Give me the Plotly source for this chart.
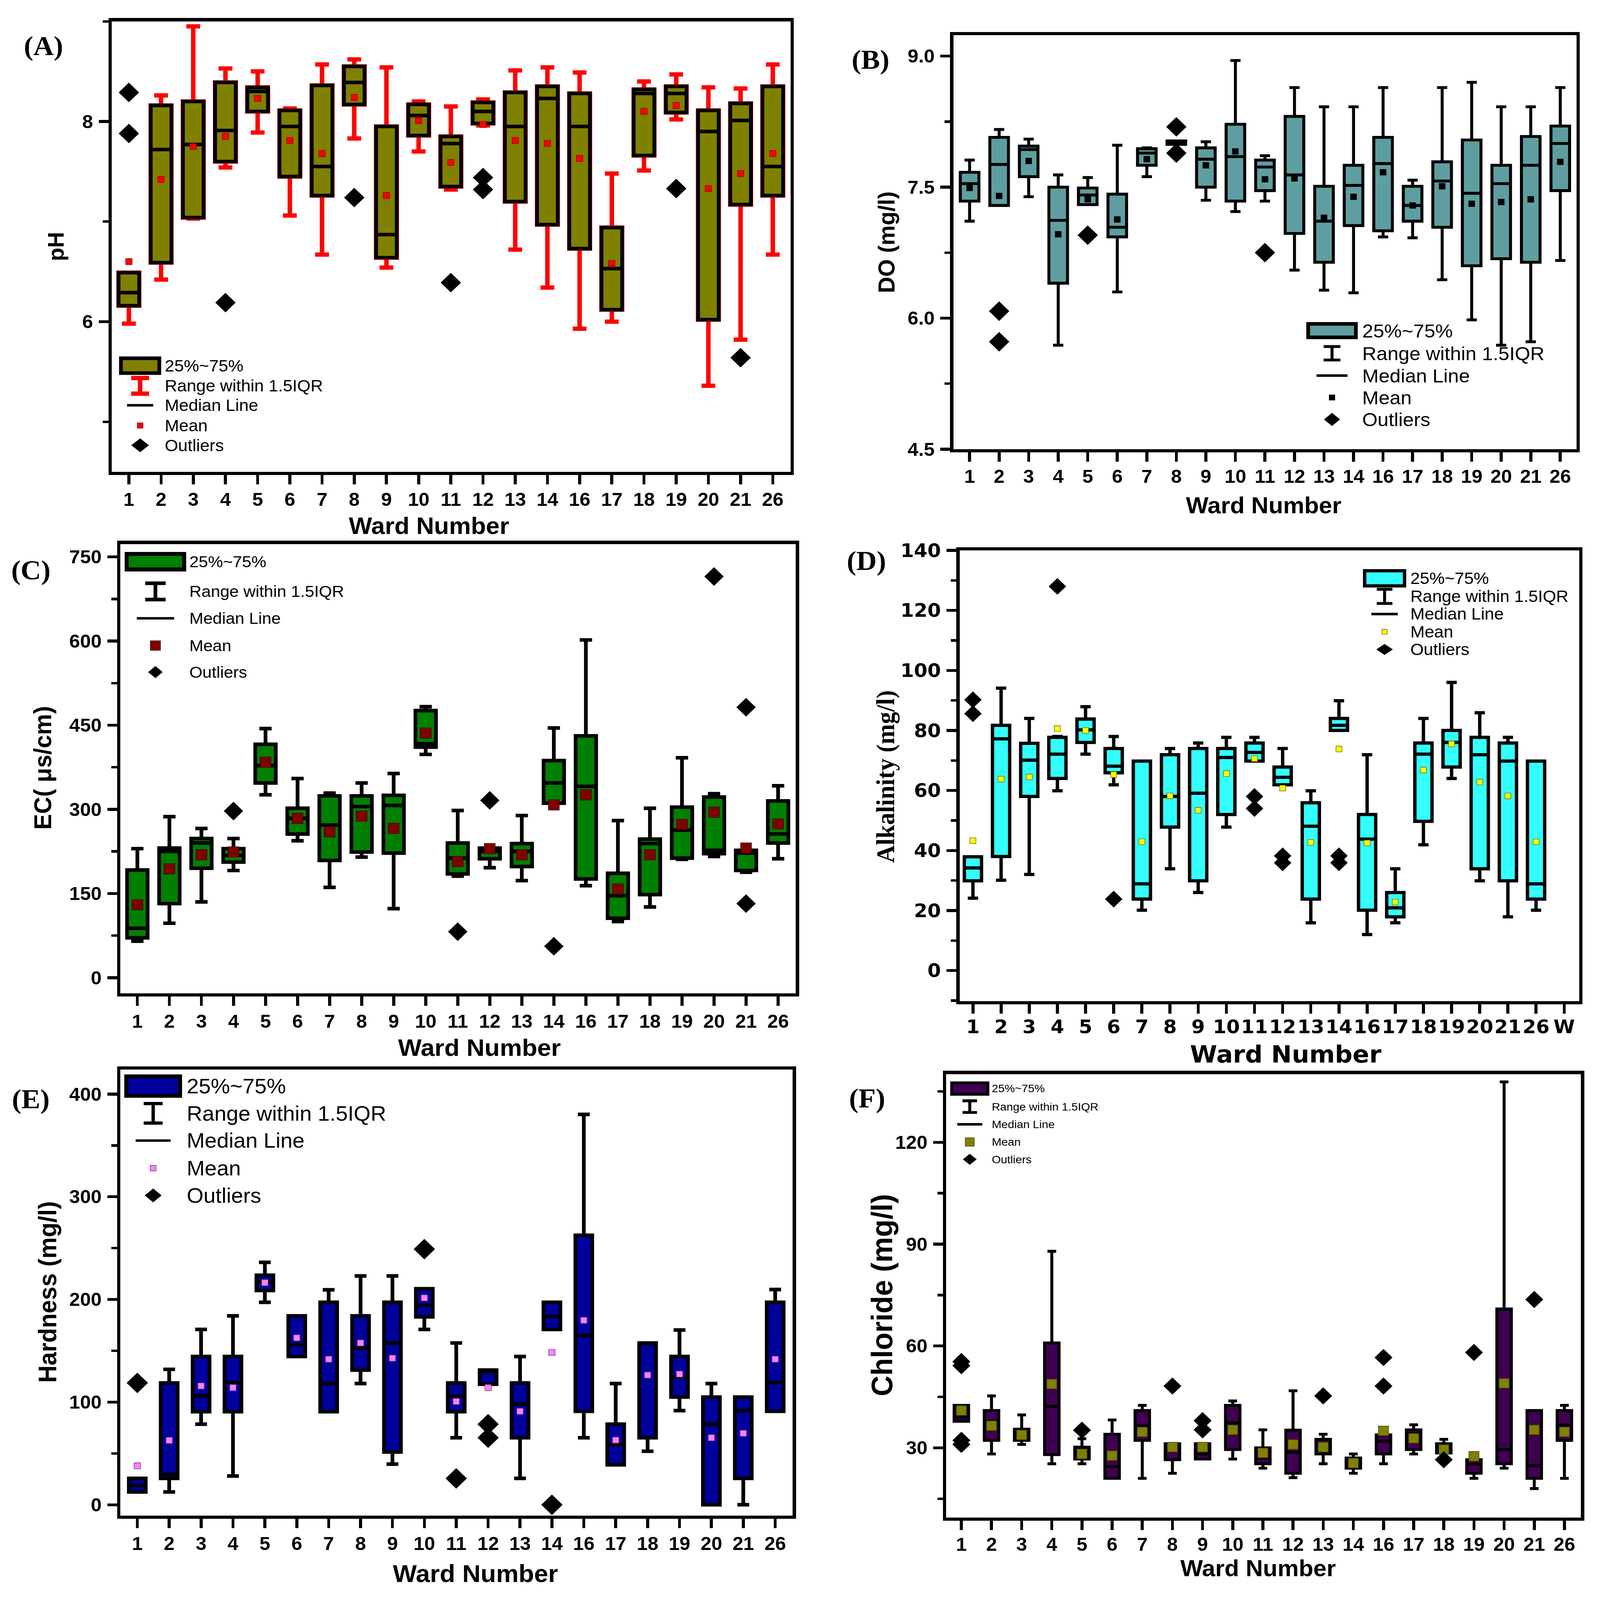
import plotly.graph_objects as go

W, H = 4293, 4462

wards = ["1", "2", "3", "4", "5", "6", "7", "8", "9", "10", "11", "12", "13", "14",
         "16", "17", "18", "19", "20", "21", "26"]
wards_alk = wards + ["W"]

# ---------------- (A) pH ----------------
ph_q1 = [6.16, 6.59, 7.04, 7.60, 8.10, 7.45, 7.26, 8.17, 6.64, 7.86, 7.35, 7.98, 7.20, 6.97, 6.73, 6.12, 7.66, 8.09, 6.02, 7.17, 7.26]
ph_med = [6.29, 7.72, 7.77, 7.91, 8.30, 7.95, 7.55, 8.39, 6.87, 8.06, 7.78, 8.10, 7.95, 8.23, 7.95, 6.53, 8.28, 8.28, 7.90, 8.01, 7.55]
ph_q3 = [6.49, 8.16, 8.20, 8.39, 8.34, 8.11, 8.36, 8.55, 7.95, 8.17, 7.85, 8.19, 8.29, 8.35, 8.28, 6.94, 8.32, 8.35, 8.11, 8.18, 8.35]
ph_lo = [5.98, 6.42, 7.03, 7.54, 7.89, 7.06, 6.67, 7.83, 6.54, 7.70, 7.32, 7.96, 6.72, 6.34, 5.93, 6.00, 7.51, 8.02, 5.36, 5.82, 6.67]
ph_hi = [6.49, 8.26, 8.95, 8.53, 8.50, 8.13, 8.57, 8.62, 8.54, 8.20, 8.15, 8.22, 8.51, 8.54, 8.49, 7.48, 8.40, 8.47, 8.34, 8.33, 8.57]
ph_mean = [6.60, 7.42, 7.75, 7.85, 8.23, 7.81, 7.68, 8.24, 7.26, 8.01, 7.59, 7.97, 7.81, 7.78, 7.63, 6.58, 8.10, 8.16, 7.33, 7.48, 7.68]
ph_out_x = ["1", "1", "4", "8", "11", "12", "12", "19", "21"]
ph_out_y = [8.29, 7.88, 6.19, 7.24, 6.39, 7.44, 7.32, 7.33, 5.64]

# ---------------- (B) DO ----------------
do_q1 = [7.34, 7.29, 7.62, 6.40, 7.30, 6.93, 7.75, 7.99, 7.50, 7.34, 7.46, 6.97, 6.64, 7.06, 7.00, 7.11, 7.04, 6.60, 6.68, 6.64, 7.46]
do_med = [7.54, 7.76, 7.93, 7.12, 7.41, 7.04, 7.89, 8.01, 7.82, 7.85, 7.73, 7.64, 7.11, 7.52, 7.77, 7.29, 7.57, 7.43, 7.54, 7.75, 8.00]
do_q3 = [7.67, 8.07, 7.97, 7.50, 7.49, 7.42, 7.94, 8.03, 7.95, 8.22, 7.81, 8.31, 7.51, 7.75, 8.07, 7.51, 7.79, 8.04, 7.75, 8.08, 8.20]
do_lo = [7.11, 7.29, 7.39, 5.69, 7.30, 6.30, 7.62, 7.99, 7.35, 7.22, 7.34, 6.55, 6.32, 6.29, 6.93, 6.92, 6.44, 5.98, 5.69, 5.73, 6.66]
do_hi = [7.81, 8.16, 8.05, 7.64, 7.61, 7.98, 7.95, 8.03, 8.02, 8.95, 7.86, 8.64, 8.42, 8.42, 8.64, 7.58, 8.64, 8.70, 8.42, 8.42, 8.64]
do_mean = [7.49, 7.40, 7.80, 6.96, 7.36, 7.13, 7.82, 8.01, 7.75, 7.91, 7.59, 7.60, 7.15, 7.39, 7.67, 7.29, 7.51, 7.31, 7.33, 7.36, 7.79]
do_out_x = ["2", "2", "5", "8", "8", "11"]
do_out_y = [6.08, 5.73, 6.95, 8.19, 7.89, 6.75]

# ---------------- (C) EC ----------------
ec_q1 = [71, 132, 195, 206, 347, 256, 209, 224, 222, 411, 185, 212, 198, 311, 176, 106, 148, 213, 221, 191, 240]
ec_med = [88, 225, 240, 218, 378, 284, 272, 305, 307, 417, 213, 225, 225, 347, 341, 146, 239, 263, 227, 222, 256]
ec_q3 = [192, 231, 248, 230, 416, 302, 324, 324, 325, 476, 240, 231, 239, 387, 431, 186, 247, 304, 322, 227, 315]
ec_lo = [65, 97, 135, 191, 326, 244, 161, 215, 123, 398, 181, 196, 173, 311, 164, 100, 126, 211, 216, 188, 212]
ec_hi = [230, 287, 266, 248, 444, 355, 329, 347, 364, 483, 298, 231, 289, 445, 602, 280, 302, 392, 328, 227, 342]
ec_mean = [130, 194, 219, 224, 384, 284, 260, 288, 266, 436, 207, 230, 219, 308, 326, 158, 219, 273, 295, 231, 274]
ec_out_x = ["4", "11", "12", "14", "20", "21", "21"]
ec_out_y = [297, 82, 316, 56, 715, 482, 132]

# ---------------- (D) Alkalinity ----------------
alk_q1 = [29.9, 38.0, 58.0, 64.0, 76.0, 65.9, 23.8, 47.8, 29.9, 52.0, 69.8, 61.9, 23.8, 80.0, 20.1, 17.9, 49.7, 67.8, 33.9, 29.9, 23.8]
alk_med = [34.2, 77.2, 70.1, 72.1, 80.2, 68.1, 28.9, 58.0, 59.1, 71.0, 72.7, 64.4, 48.1, 81.7, 43.8, 20.9, 72.1, 76.0, 71.9, 69.8, 28.9]
alk_q3 = [37.9, 81.7, 75.7, 77.7, 83.8, 74.0, 69.8, 71.9, 74.0, 74.0, 75.8, 67.8, 55.9, 84.0, 52.0, 26.0, 75.8, 80.0, 77.7, 75.8, 69.8]
alk_lo = [24.1, 30.1, 32.0, 59.9, 72.1, 61.9, 20.1, 33.9, 26.0, 47.8, 69.8, 61.9, 15.9, 80.0, 12.0, 15.9, 41.9, 64.0, 29.9, 17.9, 20.1]
alk_hi = [37.9, 94.1, 84.0, 78.0, 87.9, 78.0, 69.8, 74.0, 75.8, 77.7, 77.7, 74.0, 59.9, 89.9, 71.9, 33.9, 84.0, 96.0, 85.9, 77.7, 69.8]
alk_mean = [43.3, 63.8, 64.5, 80.6, 80.0, 65.3, 42.9, 58.2, 53.4, 65.6, 70.6, 60.8, 42.7, 73.8, 42.5, 22.8, 66.8, 75.5, 62.8, 58.2, 42.9]
alk_out_x = ["1", "1", "4", "6", "11", "11", "12", "12", "14", "14"]
alk_out_y = [90.2, 85.6, 128.0, 23.8, 58.0, 54.0, 38.2, 35.9, 38.2, 35.9]

# ---------------- (E) Hardness ----------------
hard_q1 = [12.5, 25.7, 90.7, 90.7, 208.7, 144.4, 90.7, 131.2, 51.4, 183.0, 90.7, 117.4, 65.3, 170.8, 91.0, 38.9, 65.3, 104.9, 0.0, 25.7, 91.0]
hard_med = [19.0, 29.7, 105.9, 119.0, 217.0, 156.0, 118.1, 152.7, 157.6, 194.6, 105.9, 129.6, 98.3, 183.3, 164.9, 58.7, 157.0, 124.6, 78.5, 91.7, 119.0]
hard_q3 = [25.7, 118.7, 144.4, 144.4, 223.6, 184.0, 197.2, 184.0, 197.2, 210.4, 118.7, 131.2, 118.7, 197.2, 262.5, 78.5, 157.6, 144.4, 104.9, 104.9, 197.2]
hard_lo = [12.5, 12.5, 78.5, 28.0, 197.2, 144.4, 90.7, 118.1, 39.6, 170.8, 65.3, 117.4, 25.7, 170.8, 65.3, 38.9, 52.1, 91.7, 0.0, 0.0, 91.0]
hard_hi = [25.7, 131.9, 170.8, 184.0, 236.1, 184.0, 209.4, 222.9, 222.9, 210.4, 157.6, 131.2, 144.4, 197.2, 380.2, 118.1, 157.6, 170.2, 118.1, 104.9, 209.7]
hard_mean = [37.9, 62.7, 115.7, 114.1, 216.3, 162.6, 141.8, 157.6, 142.8, 201.5, 100.6, 114.1, 91.0, 148.4, 179.7, 63.0, 126.3, 127.3, 65.3, 69.6, 141.8]
hard_out_x = ["1", "10", "11", "12", "12", "14"]
hard_out_y = [118.7, 249.0, 25.7, 78.5, 65.3, 0.0]

# ---------------- (F) Chloride ----------------
cl_q1 = [37.8, 32.2, 32.2, 28.0, 26.7, 21.0, 32.2, 26.5, 26.7, 29.5, 25.3, 22.5, 28.2, 24.0, 28.2, 29.5, 28.5, 22.5, 25.3, 21.0, 32.2]
cl_med = [39.0, 37.8, 34.2, 42.2, 28.7, 24.5, 36.5, 29.2, 28.2, 37.3, 27.0, 28.7, 29.2, 25.7, 32.0, 34.2, 30.0, 25.2, 29.5, 24.7, 36.7]
cl_q3 = [42.5, 41.0, 35.5, 60.9, 30.2, 34.0, 41.0, 31.2, 31.2, 42.5, 30.0, 35.2, 32.5, 27.0, 33.8, 35.3, 31.2, 26.5, 70.9, 41.0, 41.0]
cl_lo = [37.8, 28.2, 31.0, 25.3, 25.3, 21.0, 21.0, 22.5, 26.7, 26.7, 24.0, 21.2, 25.3, 22.5, 25.3, 28.2, 28.5, 21.0, 24.0, 18.0, 21.0]
cl_hi = [42.5, 45.3, 39.7, 87.9, 32.7, 38.2, 42.5, 31.2, 31.2, 43.8, 35.3, 46.8, 34.0, 28.2, 33.8, 36.8, 32.5, 26.5, 137.8, 41.0, 42.5]
cl_mean = [41.0, 36.5, 33.8, 48.8, 28.2, 27.7, 34.7, 30.2, 30.2, 35.3, 28.5, 31.0, 30.2, 25.5, 35.0, 32.8, 29.5, 27.5, 49.0, 35.3, 34.7]
cl_out_x = ["1", "1", "1", "1", "5", "8", "9", "9", "13", "16", "16", "18", "19", "21"]
cl_out_y = [55.4, 54.2, 32.2, 31.0, 35.2, 48.2, 38.0, 35.3, 45.3, 56.6, 48.2, 26.5, 58.1, 73.7]

legend_labels = ["25%~75%", "Range within 1.5IQR", "Median Line", "Mean", "Outliers"]

SANS = "Liberation Sans"
SERIF = "Liberation Serif"

panels = [
    dict(label="(A)", lab_xy=(117, 100), q1=ph_q1, med=ph_med, q3=ph_q3, lo=ph_lo, hi=ph_hi, mean=ph_mean,
         ox=ph_out_x, oy=ph_out_y, cats=wards, box=(300, 30, 2121, 1303), yrange=[4.5, 9.0],
         tick0=0, dtick=2, minor=1, fmt="", right=[5, 7], xr=[-0.53, 20.55],
         fill="#808000", wcol="#ff0000", wlw=12, blw=10, bw=0.64, ww=0.67,
         mcol="#ff0000", mline="#8b0000", msize=17, dsize=42,
         xt=("Ward Number", 1151, 1455, 66), yt=("pH", 150, 667, 61, SANS), tfam=SANS, xso=-2,
         leg=dict(cx=376, tx=440, rows=[1003, 1060, 1115, 1172, 1228], bw=103, bh=42, blw=10,
                  cap=48, wh=44, mw=70, ms=15, dw=46, dh=38, fs=46)),
    dict(label="(B)", lab_xy=(2335, 138), q1=do_q1, med=do_med, q3=do_q3, lo=do_lo, hi=do_hi, mean=do_mean,
         ox=do_out_x, oy=do_out_y, cats=wards, box=(2558, 69, 4230, 1239), yrange=[4.5, 9.24],
         tick0=4.5, dtick=1.5, minor=0.75, fmt=".1f", right=[5.25, 6.75, 8.25], xr=[-0.55, 20.55],
         fill="#5f9ea0", wcol="black", wlw=8, blw=8, bw=0.63, ww=0.55,
         mcol="black", mline="black", msize=16, dsize=42,
         xt=("Ward Number", 3390, 1397, 64), yt=("DO (mg/l)", 2379, 655, 63, SANS), tfam=SANS, xso=-4,
         leg=dict(cx=3574, tx=3653, rows=[904, 968, 1031, 1093, 1155], bw=128, bh=38, blw=10,
                  cap=45, wh=38, mw=83, ms=15, dw=42, dh=36, fs=53)),
    dict(label="(C)", lab_xy=(83, 1580), q1=ec_q1, med=ec_med, q3=ec_q3, lo=ec_lo, hi=ec_hi, mean=ec_mean,
         ox=ec_out_x, oy=ec_out_y, cats=wards, box=(323, 1507, 2135, 2777), yrange=[-28, 773],
         tick0=0, dtick=150, minor=75, fmt="", right=[75, 225, 375, 525, 675], xr=[-0.53, 20.55],
         fill="#008000", wcol="black", wlw=10, blw=10, bw=0.64, ww=0.6,
         mcol="#800000", mline="#3a0000", msize=29, dsize=40,
         xt=("Ward Number", 1286, 2930, 67), yt=("EC( μs/cm)", 114, 2140, 66, SANS), tfam=SANS, xso=-2,
         leg=dict(cx=417, tx=506, rows=[1557, 1641, 1717, 1794, 1869], bw=154, bh=44, blw=11,
                  cap=55, wh=46, mw=100, ms=27, dw=38, dh=33, fs=45)),
    dict(label="(D)", lab_xy=(2325, 1554), q1=alk_q1, med=alk_med, q3=alk_q3, lo=alk_lo, hi=alk_hi, mean=alk_mean,
         ox=alk_out_x, oy=alk_out_y, cats=wards_alk, box=(2575, 1525, 4237, 2799), yrange=[-10.2, 140],
         tick0=0, dtick=20, minor=10, fmt="", right=[0, 20, 40, 60, 80, 100, 120], xr=[-0.47, 21.53],
         fill="#33ffff", wcol="black", wlw=8, blw=9, bw=0.61, ww=0.6,
         mcol="#ffff00", mline="#6b6b00", msize=16, dsize=36,
         xt=("Ward Number", 3450, 2950, 66), yt=("Alkalinity (mg/l)", 2377, 2164, 68, SERIF),
         tfam="DejaVu Sans", xso=-8, top=True,
         leg=dict(cx=3715, tx=3782, rows=[1604, 1655, 1705, 1755, 1805], bw=107, bh=43, blw=9,
                  cap=42, wh=40, mw=71, ms=14, dw=43, dh=30, fs=46)),
    dict(label="(E)", lab_xy=(82, 3075), q1=hard_q1, med=hard_med, q3=hard_q3, lo=hard_lo, hi=hard_hi, mean=hard_mean,
         ox=hard_out_x, oy=hard_out_y, cats=wards, box=(323, 2992, 2127, 4253), yrange=[-10.6, 424],
         tick0=0, dtick=100, minor=50, fmt="", right=[50, 150, 250, 350], xr=[-0.53, 20.55],
         fill="#00009c", wcol="black", wlw=9, blw=10, bw=0.53, ww=0.7,
         mcol="#ff80ff", mline="#7a3a7a", msize=17, dsize=44,
         xt=("Ward Number", 1275, 4416, 68), yt=("Hardness (mg/l)", 127, 3621, 67, SANS), tfam=SANS, xso=-2,
         leg=dict(cx=411, tx=499, rows=[3039, 3116, 3193, 3271, 3348], bw=144, bh=55, blw=11,
                  cap=51, wh=55, mw=94, ms=16, dw=44, dh=38, fs=58)),
    dict(label="(F)", lab_xy=(2326, 3073), q1=cl_q1, med=cl_med, q3=cl_q3, lo=cl_lo, hi=cl_hi, mean=cl_mean,
         ox=cl_out_x, oy=cl_out_y, cats=wards, box=(2539, 3005, 4242, 4258), yrange=[9.5, 140.1],
         tick0=0, dtick=30, minor=15, fmt="", right=[15, 45, 75, 105, 135], xr=[-0.5, 20.55],
         fill="#400052", wcol="black", wlw=8, blw=8, bw=0.48, ww=0.6,
         mcol="#808000", mline="#3d3d00", msize=27, dsize=37,
         xt=("Ward Number", 3375, 4402, 64), yt=("Chloride (mg/l)", 2366, 3630, 80, SANS), tfam=SANS, xso=-4,
         leg=dict(cx=2602, tx=2659, rows=[3046, 3097, 3147, 3197, 3246], bw=97, bh=32, blw=8,
                  cap=39, wh=33, mw=67, ms=24, dw=36, dh=30, fs=31)),
]

fig = go.Figure()
layout = dict(width=W, height=H, margin=dict(l=0, r=0, t=0, b=0),
              paper_bgcolor="white", plot_bgcolor="white", showlegend=False,
              boxmode="overlay", hovermode=False)
shapes = []
annots = []


def fx(x):
    return x / W


def fy(y):
    return 1 - y / H


def add_line(x0, y0, x1, y1, color, lw):
    shapes.append(dict(type="line", xref="paper", yref="paper", x0=fx(x0), y0=fy(y0),
                       x1=fx(x1), y1=fy(y1), line=dict(color=color, width=lw)))


def add_rect(x0, y0, x1, y1, fill, lc, lw):
    shapes.append(dict(type="rect", xref="paper", yref="paper", x0=fx(x0), x1=fx(x1),
                       y0=fy(y1), y1=fy(y0), fillcolor=fill, line=dict(color=lc, width=lw)))


def add_diamond(cx, cy, w, h):
    pts = [(cx, cy - h / 2), (cx + w / 2, cy), (cx, cy + h / 2), (cx - w / 2, cy)]
    path = "M " + " L ".join(f"{fx(a):.6f},{fy(b):.6f}" for a, b in pts) + " Z"
    shapes.append(dict(type="path", xref="paper", yref="paper", path=path,
                       fillcolor="black", line=dict(color="black", width=1)))


ov_y = 7
for i, p in enumerate(panels, start=1):
    xa = "x" if i == 1 else f"x{i}"
    ya = "y" if i == 1 else f"y{i}"
    l, t, r, b = p["box"]
    cats = p["cats"]

    if p["wcol"] != "black":
        fig.add_trace(go.Box(x=wards, q1=p["q1"], median=p["med"], q3=p["q3"],
                             lowerfence=p["lo"], upperfence=p["hi"], boxpoints=False,
                             width=p["bw"], whiskerwidth=p["ww"], fillcolor=p["wcol"],
                             line=dict(color=p["wcol"], width=p["wlw"]),
                             xaxis=xa, yaxis=ya, hoverinfo="skip"))
        fig.add_trace(go.Box(x=wards, q1=p["q1"], median=p["med"], q3=p["q3"],
                             lowerfence=p["q1"], upperfence=p["q3"], boxpoints=False,
                             width=p["bw"], whiskerwidth=0, fillcolor=p["fill"],
                             line=dict(color="black", width=p["blw"]),
                             xaxis=xa, yaxis=ya, hoverinfo="skip"))
    else:
        fig.add_trace(go.Box(x=wards, q1=p["q1"], median=p["med"], q3=p["q3"],
                             lowerfence=p["lo"], upperfence=p["hi"], boxpoints=False,
                             width=p["bw"], whiskerwidth=p["ww"], fillcolor=p["fill"],
                             line=dict(color="black", width=p["blw"]),
                             xaxis=xa, yaxis=ya, hoverinfo="skip"))
    fig.add_trace(go.Scatter(x=wards, y=p["mean"], mode="markers", xaxis=xa, yaxis=ya,
                             marker=dict(symbol="square", size=p["msize"], color=p["mcol"],
                                         line=dict(color=p["mline"], width=1.5)),
                             hoverinfo="skip"))
    fig.add_trace(go.Scatter(x=p["ox"], y=p["oy"], mode="markers", xaxis=xa, yaxis=ya,
                             marker=dict(symbol="diamond", size=p["dsize"], color="black"),
                             hoverinfo="skip"))

    tick_font = dict(family=p["tfam"], size=52, color="black", weight="bold")
    layout["xaxis" + ("" if i == 1 else str(i))] = dict(
        domain=[fx(l), fx(r)], anchor=ya, type="category", categoryorder="array",
        categoryarray=cats, range=p["xr"], tickmode="array", tickvals=cats, ticktext=cats,
        ticks="outside", ticklen=26, tickwidth=8, tickcolor="black",
        showline=True, linewidth=9, linecolor="black", mirror=True,
        showgrid=False, zeroline=False, tickfont=tick_font, ticklabelstandoff=p["xso"],
        fixedrange=True)
    layout["yaxis" + ("" if i == 1 else str(i))] = dict(
        domain=[fy(b), fy(t)], anchor=xa, range=p["yrange"], tickmode="linear",
        tick0=p["tick0"], dtick=p["dtick"], tickformat=p["fmt"],
        ticks="outside", ticklen=26, tickwidth=8, tickcolor="black",
        minor=dict(tick0=p["tick0"], dtick=p["minor"], ticks="outside", ticklen=15,
                   tickwidth=7, tickcolor="black", showgrid=False),
        showline=True, linewidth=9, linecolor="black", mirror=True,
        showgrid=False, zeroline=False, tickfont=tick_font, ticklabelstandoff=5,
        fixedrange=True)
    layout[f"yaxis{ov_y}"] = dict(overlaying=ya, side="right", anchor=xa, range=p["yrange"],
                                  tickmode="array", tickvals=p["right"], ticks="inside",
                                  ticklen=18, tickwidth=7, tickcolor="black",
                                  showticklabels=False, showline=False, showgrid=False,
                                  zeroline=False, fixedrange=True)
    ov_y += 1
    if p.get("top"):
        layout["xaxis7"] = dict(overlaying=xa, side="top", anchor=ya, range=p["xr"],
                                tickmode="array", tickvals=list(range(len(cats))),
                                ticks="inside", ticklen=18, tickwidth=7, tickcolor="black",
                                showticklabels=False, showline=False, showgrid=False,
                                zeroline=False, fixedrange=True)

    annots.append(dict(text=p["label"], xref="paper", yref="paper", x=fx(p["lab_xy"][0]),
                       y=fy(p["lab_xy"][1]), xanchor="center", yanchor="middle", showarrow=False,
                       font=dict(family=SERIF, size=76, color="black", weight="bold")))
    txt, tx, ty, tfs = p["xt"]
    annots.append(dict(text=txt, xref="paper", yref="paper", x=fx(tx), y=fy(ty),
                       xanchor="center", yanchor="middle", showarrow=False,
                       font=dict(family=p["tfam"], size=tfs, color="black", weight="bold")))
    txt, tx, ty, tfs, fam = p["yt"]
    annots.append(dict(text=txt, xref="paper", yref="paper", x=fx(tx), y=fy(ty),
                       xanchor="center", yanchor="middle", showarrow=False, textangle=-90,
                       font=dict(family=fam, size=tfs, color="black", weight="bold")))

    lg = p["leg"]
    cx = lg["cx"]
    r0, r1, r2, r3, r4 = lg["rows"]
    add_rect(cx - lg["bw"] / 2, r0 - lg["bh"] / 2, cx + lg["bw"] / 2, r0 + lg["bh"] / 2,
             p["fill"], "black", lg["blw"])
    wc = p["wcol"]
    wlw = p["wlw"]
    add_line(cx, r1 - lg["wh"] / 2, cx, r1 + lg["wh"] / 2, wc, wlw)
    add_line(cx - lg["cap"] / 2, r1 - lg["wh"] / 2, cx + lg["cap"] / 2, r1 - lg["wh"] / 2, wc, wlw)
    add_line(cx - lg["cap"] / 2, r1 + lg["wh"] / 2, cx + lg["cap"] / 2, r1 + lg["wh"] / 2, wc, wlw)
    add_line(cx - lg["mw"] / 2, r2, cx + lg["mw"] / 2, r2, "black", 7)
    add_rect(cx - lg["ms"] / 2, r3 - lg["ms"] / 2, cx + lg["ms"] / 2, r3 + lg["ms"] / 2,
             p["mcol"], p["mline"], 1.5)
    add_diamond(cx, r4, lg["dw"], lg["dh"])
    for lab, ry in zip(legend_labels, lg["rows"]):
        annots.append(dict(text=lab, xref="paper", yref="paper", x=fx(lg["tx"]), y=fy(ry),
                           xanchor="left", yanchor="middle", showarrow=False,
                           font=dict(family=SANS, size=lg["fs"], color="black")))

layout["shapes"] = shapes
layout["annotations"] = annots
fig.update_layout(**layout)

# The page is photographed in whatever viewport the browser really has; scale the
# fixed-size figure so that it exactly fills that viewport.
fit_js = """
(function(){
  var gd = document.getElementById('{plot_id}');
  document.documentElement.style.margin = '0';
  document.documentElement.style.padding = '0';
  document.body.style.margin = '0';
  document.body.style.padding = '0';
  document.body.style.overflow = 'hidden';
  gd.style.position = 'absolute';
  gd.style.left = '0px';
  gd.style.top = '0px';
  var sx = window.innerWidth / %d, sy = window.innerHeight / %d;
  gd.style.transformOrigin = '0 0';
  gd.style.transform = 'scale(' + sx + ',' + sy + ')';
})();
""" % (W, H)

fig.write_html("out.html", post_script=fit_js, config={"displayModeBar": False})
